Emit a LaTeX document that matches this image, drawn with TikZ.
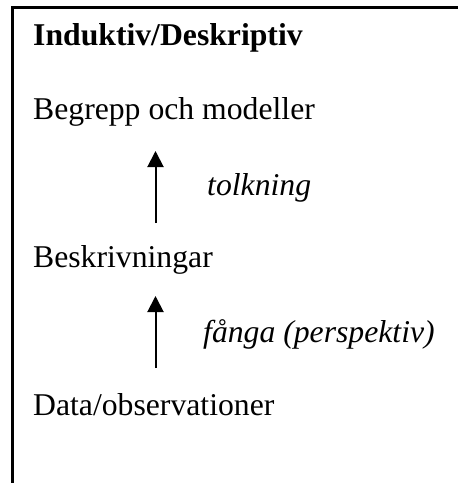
\documentclass[tikz,border=0pt]{standalone}
\usepackage{fontspec}
\setmainfont{Liberation Serif}
\usetikzlibrary{arrows.meta}
\begin{document}
\begin{tikzpicture}[x=1pt,y=-1pt,
		txt/.style={anchor=base west,inner sep=0pt,font=\fontsize{31.7pt}{38pt}\selectfont},
		pil/.style={line width=2pt,-{Triangle[width=16pt,length=16pt]}}]
			\useasboundingbox (0,0) rectangle (458,483);
			
			% Ram (överkant och vänsterkant)
			\draw[line width=2.2pt] (458,7.5) -- (12.5,7.5) -- (12.5,483);
			
			% Rubrik och nivåer
			\node[txt,font=\fontsize{31.7pt}{38pt}\selectfont\bfseries] (titel) at (33,45) {Induktiv/Deskriptiv};
			\node[txt] (begrepp) at (33,119) {Begrepp och modeller};
			\node[txt] (beskriv) at (33,267) {Beskrivningar};
			\node[txt] (data) at (33,415) {Data/observationer};
			
			% Pilar mellan nivåerna
			\coordinate (p1a) at (155.5,223);
			\coordinate (p1b) at (155.5,151);
			\coordinate (p2a) at (155.5,368);
			\coordinate (p2b) at (155.5,296);
			\draw[pil] (p1a) -- (p1b);
			\draw[pil] (p2a) -- (p2b);
			
			\node[txt,font=\fontsize{31.7pt}{38pt}\selectfont\itshape] (tolk) at (207,195) {tolkning};
			\node[txt,font=\fontsize{31.7pt}{38pt}\selectfont\itshape] (fanga) at (203,342) {fånga (perspektiv)};
	\end{tikzpicture}
\end{document}
